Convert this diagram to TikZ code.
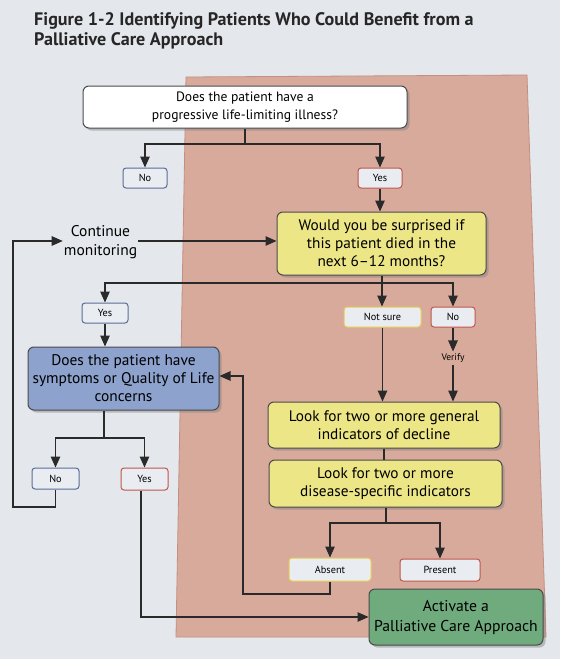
\documentclass[tikz,border=0pt]{standalone}
\usepackage{fontspec}
\setmainfont{PT Sans}
\usetikzlibrary{shadows,arrows.meta}
\definecolor{page}{HTML}{E4E7EC}
\definecolor{pinkbg}{HTML}{D7AA9C}
\definecolor{pinkedge}{HTML}{C48E80}
\definecolor{qyellow}{HTML}{EDE686}
\definecolor{qblue}{HTML}{8DA2CD}
\definecolor{qgreen}{HTML}{70AB7E}
\definecolor{lblfill}{HTML}{E9ECF1}
\definecolor{bblue}{HTML}{5B6D98}
\definecolor{bred}{HTML}{C0574C}
\definecolor{byellow}{HTML}{E6CC55}
\definecolor{ink}{HTML}{2A2A2A}
\tikzset{
  qbox/.style={draw=ink!85, line width=1pt, rounded corners=6pt, align=center,
    drop shadow={shadow xshift=2.5pt, shadow yshift=-2.5pt, opacity=0.45}, inner sep=1pt},
  lbl/.style={fill=lblfill, line width=1pt, rounded corners=3pt, align=center,
    font=\fontsize{10.3}{12}\selectfont, inner sep=1pt},
  conn/.style={draw=ink, line width=1.1pt},
  arr/.style={conn, -{Triangle[length=11pt,width=9.5pt]}},
}
\begin{document}
\begin{tikzpicture}[x=1pt,y=-1pt]
\useasboundingbox (0,0) rectangle (560,659);
\fill[page] (0,0) rectangle (560,659);
\filldraw[fill=pinkbg, draw=pinkedge, line width=0.8pt] (186,77) -- (527,75) -- (546,637) -- (176,637) -- cycle;
% title
\node[anchor=north west, align=left, inner sep=0pt, font=\bfseries\fontsize{18.1}{20}\selectfont, text=ink!90!black] (title) at (34,12)
  {Figure 1-2 Identifying Patients Who Could Benefit from a\\Palliative Care Approach};
% main boxes
\node[qbox, fill=white, minimum width=324pt, minimum height=42pt, font=\fontsize{13.6}{18}\selectfont] (q1) at (245,107)
  {Does the patient have a\\progressive life-limiting illness?};
\node[qbox, fill=qyellow, minimum width=209pt, minimum height=63pt, font=\fontsize{15.3}{18}\selectfont] (q2) at (381.5,243.5)
  {Would you be surprised if\\this patient died in the\\next 6--12 months?};
\node[qbox, fill=qblue, minimum width=191pt, minimum height=63pt, font=\fontsize{15.4}{18}\selectfont] (q3) at (123.5,378.5)
  {Does the patient have\\symptoms or Quality of Life\\concerns};
\node[qbox, fill=qyellow, minimum width=232pt, minimum height=46pt, font=\fontsize{15.3}{18}\selectfont] (gen) at (384,425)
  {Look for two or more general\\indicators of decline};
\node[qbox, fill=qyellow, minimum width=233pt, minimum height=47pt, font=\fontsize{15.3}{18}\selectfont] (dis) at (385.5,483.5)
  {Look for two or more\\disease-specific indicators};
\node[qbox, fill=qgreen, minimum width=174pt, minimum height=56pt, font=\fontsize{15.7}{20}\selectfont] (act) at (456,617)
  {Activate a\\Palliative Care Approach};
% text nodes
\node[align=center, inner sep=1pt, font=\fontsize{15.5}{19}\selectfont] (cont) at (100.5,242) {Continue\\monitoring};
\node[inner sep=2pt, font=\fontsize{9.5}{11}\selectfont] (ver) at (453,358) {Verify};
% labels
\node[lbl, draw=bblue, minimum width=44pt, minimum height=20pt] (no1) at (145,178) {No};
\node[lbl, draw=bred, minimum width=44pt, minimum height=20pt] (yes1) at (380,178) {Yes};
\node[lbl, draw=bblue, minimum width=46pt, minimum height=20pt] (yes2) at (105,313) {Yes};
\node[lbl, draw=byellow, minimum width=77pt, minimum height=20pt] (ns) at (382.5,317) {Not sure};
\node[lbl, draw=bred, minimum width=44pt, minimum height=20pt] (no2) at (453,317) {No};
\node[lbl, draw=bblue, minimum width=47pt, minimum height=21pt] (no3) at (55.5,478.5) {No};
\node[lbl, draw=bred, minimum width=47pt, minimum height=22pt] (yes3) at (144.5,479) {Yes};
\node[lbl, draw=byellow, minimum width=82pt, minimum height=23pt] (abs) at (330,569.5) {Absent};
\node[lbl, draw=bred, minimum width=80pt, minimum height=22pt] (pres) at (440,570) {Present};
% junctions
\coordinate (j1) at (245,144);
\coordinate (j2) at (382,283);
\coordinate (j3) at (386,523);
\coordinate (j4) at (104,438);
\coordinate (l1) at (13,507);
\coordinate (l2) at (13,241);
\coordinate (r1) at (243,594);
\coordinate (r2) at (243,376);
\coordinate (g1) at (141,617);
% connectors
\draw[conn] (q1.south) -- (j1);
\draw[arr] (j1) -| (no1.north);
\draw[arr] (j1) -| (yes1.north);
\draw[arr] (yes1.south) -- (yes1.south |- q2.north);
\draw[arr] (cont.east |- 0,241) -- (q2.west |- 0,241);
\draw[conn] (q2.south -| j2) -- (j2);
\draw[arr] (j2) -| (yes2.north);
\draw[arr] (j2) -- (j2 |- ns.north);
\draw[arr] (j2) -| (no2.north);
\draw[arr] (no2.south) -- (ver.north);
\draw[arr] (ver.south) -- (ver.south |- gen.north);
\draw[arr] (ns.south) -- (ns.south |- gen.north);
\draw[arr] (yes2.south) -- (yes2.south |- q3.north);
\draw[conn] (gen.south) -- (gen.south |- dis.north);
\draw[conn] (dis.south -| j3) -- (j3);
\draw[arr] (j3) -| (abs.north);
\draw[arr] (j3) -| (pres.north);
\draw[arr] (abs.south) |- (r1) -- (r2) -- (q3.east |- r2);
\draw[conn] (q3.south -| j4) -- (j4);
\draw[arr] (j4) -| (no3.north);
\draw[arr] (j4) -| (yes3.north);
\draw[arr] (no3.south) |- (l1) -- (l2) -- (cont.west |- l2);
\draw[arr] (yes3.south -| g1) -- (g1) -- (act.west |- g1);
\end{tikzpicture}
\end{document}
